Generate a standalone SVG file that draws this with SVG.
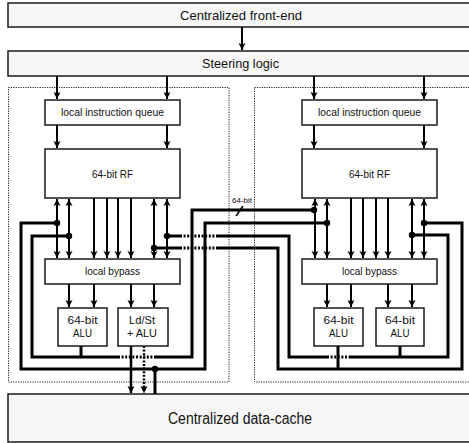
<svg xmlns="http://www.w3.org/2000/svg" width="469" height="443" viewBox="0 0 469 443">
<style>
.box{fill:#fff;stroke:#1a1a1a;stroke-width:1.5}
.gbox{fill:#f7f7f7;stroke:#1a1a1a;stroke-width:1.5}
.cont{fill:none;stroke:#222;stroke-width:1;stroke-dasharray:1.2 1.2}
.t{font-family:"Liberation Sans",Arial,sans-serif;fill:#111;text-anchor:middle}
.arr{stroke:#000;stroke-width:2;fill:none;marker-end:url(#ah)}
.bi{stroke:#000;stroke-width:2;fill:none;marker-end:url(#ah);marker-start:url(#ah)}
.w{stroke:#000;stroke-width:3;fill:none}
.wd{stroke:#000;stroke-width:3;fill:none;stroke-dasharray:2 1.6}
.dot{fill:#000}
</style>
<defs>
<marker id="ah" markerUnits="userSpaceOnUse" markerWidth="8" markerHeight="8" refX="7" refY="3.5" orient="auto-start-reverse" viewBox="0 0 8 7">
<path d="M0,0 L7,3.5 L0,7 L1.5,3.5 z" fill="#000"/>
</marker>
</defs>

<g id="containers">
<rect class="cont" x="8.5" y="87.5" width="220.5" height="294.5"/>
<rect class="cont" x="254.5" y="87.5" width="225" height="294.5"/>
</g>

<g id="frontend"><rect class="gbox" x="8" y="3" width="475" height="24"/><text class="t" x="241" y="20" font-size="13" textLength="122" lengthAdjust="spacingAndGlyphs">Centralized front-end</text></g>
<g id="steering"><rect class="gbox" x="8" y="51" width="475" height="25"/><text class="t" x="240.5" y="68" font-size="13" textLength="77" lengthAdjust="spacingAndGlyphs">Steering logic</text></g>
<g id="datacache"><rect class="gbox" x="8" y="394" width="475" height="48"/><text class="t" x="240" y="424" font-size="16" textLength="144" lengthAdjust="spacingAndGlyphs">Centralized data-cache</text></g>

<g id="liqL"><rect class="box" x="45" y="100" width="135" height="25"/><text class="t" x="112.5" y="116" font-size="11" textLength="103" lengthAdjust="spacingAndGlyphs">local instruction queue</text></g>
<g id="liqR"><rect class="box" x="302" y="100" width="135" height="25"/><text class="t" x="369.5" y="116" font-size="11" textLength="103" lengthAdjust="spacingAndGlyphs">local instruction queue</text></g>
<g id="rfL"><rect class="box" x="45" y="149" width="135" height="49"/><text class="t" x="112.5" y="178" font-size="11" textLength="41" lengthAdjust="spacingAndGlyphs">64-bit RF</text></g>
<g id="rfR"><rect class="box" x="302" y="149" width="135" height="49"/><text class="t" x="369.5" y="178" font-size="11" textLength="41" lengthAdjust="spacingAndGlyphs">64-bit RF</text></g>
<g id="bypL"><rect class="box" x="45" y="259" width="135" height="25"/><text class="t" x="112.5" y="275" font-size="11" textLength="55" lengthAdjust="spacingAndGlyphs">local bypass</text></g>
<g id="bypR"><rect class="box" x="302" y="259" width="135" height="25"/><text class="t" x="369.5" y="275" font-size="11" textLength="55" lengthAdjust="spacingAndGlyphs">local bypass</text></g>
<g id="aluL1"><rect class="box" x="58" y="308" width="49" height="38"/><text class="t" x="82.5" y="324" font-size="10.5" textLength="30" lengthAdjust="spacingAndGlyphs">64-bit</text><text class="t" x="82.5" y="337" font-size="10.5" textLength="19" lengthAdjust="spacingAndGlyphs">ALU</text></g>
<g id="ldst"><rect class="box" x="118" y="308" width="50" height="38"/><text class="t" x="142" y="324" font-size="10.5" textLength="26" lengthAdjust="spacingAndGlyphs">Ld/St</text><text class="t" x="142" y="337" font-size="10.5" textLength="30" lengthAdjust="spacingAndGlyphs">+ ALU</text></g>
<g id="aluR1"><rect class="box" x="314" y="308" width="49" height="38"/><text class="t" x="338.5" y="324" font-size="10.5" textLength="30" lengthAdjust="spacingAndGlyphs">64-bit</text><text class="t" x="338.5" y="337" font-size="10.5" textLength="19" lengthAdjust="spacingAndGlyphs">ALU</text></g>
<g id="aluR2"><rect class="box" x="376" y="308" width="48" height="38"/><text class="t" x="400" y="324" font-size="10.5" textLength="30" lengthAdjust="spacingAndGlyphs">64-bit</text><text class="t" x="400" y="337" font-size="10.5" textLength="19" lengthAdjust="spacingAndGlyphs">ALU</text></g>

<g id="connectors">
<line class="arr" x1="242" y1="27" x2="242" y2="50"/>
<line class="arr" x1="57" y1="76" x2="57" y2="99"/>
<line class="arr" x1="167" y1="76" x2="167" y2="99"/>
<line class="arr" x1="314" y1="76" x2="314" y2="99"/>
<line class="arr" x1="424" y1="76" x2="424" y2="99"/>
<line class="arr" x1="57" y1="125" x2="57" y2="148"/>
<line class="arr" x1="167" y1="125" x2="167" y2="148"/>
<line class="arr" x1="314" y1="125" x2="314" y2="148"/>
<line class="arr" x1="424" y1="125" x2="424" y2="148"/>

<line class="bi" x1="57" y1="199" x2="57" y2="258"/>
<line class="bi" x1="69" y1="199" x2="69" y2="258"/>
<line class="bi" x1="154" y1="199" x2="154" y2="258"/>
<line class="bi" x1="167" y1="199" x2="167" y2="258"/>
<line class="arr" x1="94" y1="198" x2="94" y2="258"/>
<line class="arr" x1="107" y1="198" x2="107" y2="258"/>
<line class="arr" x1="118" y1="198" x2="118" y2="258"/>
<line class="arr" x1="131" y1="198" x2="131" y2="258"/>

<line class="bi" x1="315" y1="199" x2="315" y2="258"/>
<line class="bi" x1="327" y1="199" x2="327" y2="258"/>
<line class="bi" x1="412" y1="199" x2="412" y2="258"/>
<line class="bi" x1="424" y1="199" x2="424" y2="258"/>
<line class="arr" x1="351" y1="198" x2="351" y2="258"/>
<line class="arr" x1="363" y1="198" x2="363" y2="258"/>
<line class="arr" x1="376" y1="198" x2="376" y2="258"/>
<line class="arr" x1="388" y1="198" x2="388" y2="258"/>

<line class="arr" x1="69" y1="284" x2="69" y2="307"/>
<line class="arr" x1="94" y1="284" x2="94" y2="307"/>
<line class="arr" x1="131" y1="284" x2="131" y2="307"/>
<line class="arr" x1="154" y1="284" x2="154" y2="307"/>
<line class="arr" x1="327" y1="284" x2="327" y2="307"/>
<line class="arr" x1="351" y1="284" x2="351" y2="307"/>
<line class="arr" x1="388" y1="284" x2="388" y2="307"/>
<line class="arr" x1="412" y1="284" x2="412" y2="307"/>

<!-- W1 -->
<path class="w" d="M57,223 H21 V369 H205 V223 H327"/>
<line class="w" x1="155" y1="369" x2="155" y2="394"/>
<!-- W2 -->
<path class="w" d="M69,236 H32 V357 H118"/>
<line class="wd" x1="118" y1="357" x2="155" y2="357"/>
<path class="w" d="M155,357 H192 V210 H314"/>
<line class="w" x1="81" y1="346" x2="81" y2="357"/>
<!-- W3 -->
<line class="w" x1="167" y1="236" x2="180" y2="236"/>
<line class="wd" x1="180" y1="236" x2="217" y2="236"/>
<path class="w" d="M217,236 H289 V357 H327"/>
<line class="wd" x1="327" y1="357" x2="350" y2="357"/>
<path class="w" d="M350,357 H448 V235 H412"/>
<line class="w" x1="400" y1="346" x2="400" y2="357"/>
<!-- W4 -->
<line class="w" x1="154" y1="248" x2="180" y2="248"/>
<line class="wd" x1="180" y1="248" x2="217" y2="248"/>
<path class="w" d="M217,248 H278 V369 H462 V223 H424"/>
<line class="w" x1="338" y1="346" x2="338" y2="369"/>

<!-- Ld/St outputs -->
<line class="arr" x1="131" y1="346" x2="131" y2="393" style="stroke-width:2.5"/>
<line class="arr" x1="144" y1="346" x2="144" y2="393" style="stroke-width:2.5;stroke-dasharray:2 1.6"/>

<circle class="dot" cx="57" cy="223" r="3.2"/>
<circle class="dot" cx="69" cy="236" r="3.2"/>
<circle class="dot" cx="167" cy="236" r="3.2"/>
<circle class="dot" cx="154" cy="248" r="3.2"/>
<circle class="dot" cx="314" cy="210" r="3.2"/>
<circle class="dot" cx="327" cy="223" r="3.2"/>
<circle class="dot" cx="424" cy="223" r="3.2"/>
<circle class="dot" cx="412" cy="235" r="3.2"/>
<circle class="dot" cx="155" cy="369" r="3.2"/>

<line x1="236" y1="216" x2="243" y2="206" stroke="#000" stroke-width="1.5"/>
<text class="t" x="242" y="203" font-size="7.5" textLength="20" lengthAdjust="spacingAndGlyphs">64-bit</text>
</g>
</svg>
